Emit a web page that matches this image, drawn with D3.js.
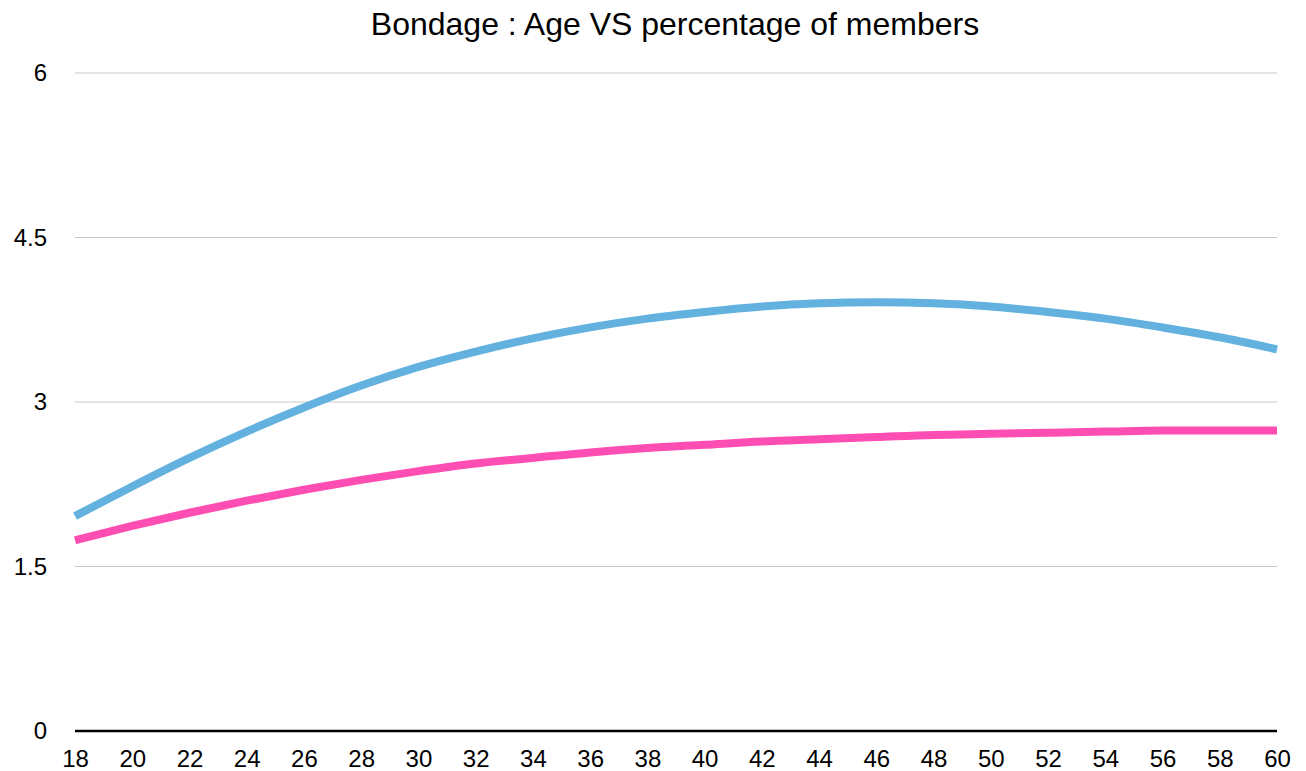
<!DOCTYPE html>
<html>
<head>
<meta charset="utf-8">
<script src="https://cdn.jsdelivr.net/npm/d3@7"></script>
<style>
  body { margin: 0; background: #fff; }
  svg { display: block; font-family: "Liberation Sans", Arial, Helvetica, sans-serif; }
</style>
</head>
<body>
<div id="vizcont"></div>
<script>
// age on x, percentage of members on y
var ages = [18, 20, 22, 24, 26, 28, 30, 32, 34, 36, 38, 40, 42, 44, 46, 48, 50, 52, 54, 56, 58, 60];
var blueVals = [1.96, 2.23, 2.49, 2.73, 2.95, 3.15, 3.32, 3.46, 3.58, 3.68, 3.76, 3.82, 3.87, 3.90, 3.91, 3.90, 3.87, 3.82, 3.76, 3.68, 3.59, 3.48];
var pinkVals = [1.74, 1.87, 1.99, 2.10, 2.20, 2.29, 2.37, 2.44, 2.49, 2.54, 2.58, 2.61, 2.64, 2.66, 2.68, 2.70, 2.71, 2.72, 2.73, 2.74, 2.74, 2.74];
var yTicks = [0, 1.5, 3, 4.5, 6];
var title = "Bondage : Age VS percentage of members";

var W = 1306, H = 771;
var margin = {top: 73, right: 29, bottom: 40, left: 75};
var width = W - margin.left - margin.right;
var height = H - margin.top - margin.bottom;

var svg = d3.select("#vizcont")
            .append("svg")
            .attr("width", W)
            .attr("height", H);

var g = svg.append("g")
           .attr("transform", "translate(" + margin.left + "," + margin.top + ")");

var x = d3.scaleLinear().domain([18, 60]).range([0, width]);
var y = d3.scaleLinear().domain([0, 6]).range([height, 0]);

// title
svg.append("text")
   .attr("x", 675)
   .attr("y", 35)
   .attr("text-anchor", "middle")
   .style("font-size", "32px")
   .style("fill", "#000")
   .text(title);

// gridlines
g.selectAll(".grid")
 .data(yTicks.filter(function(d) { return d > 0; }))
 .enter()
 .append("line")
 .attr("class", "grid")
 .attr("x1", 0)
 .attr("x2", width)
 .attr("y1", function(d) { return y(d); })
 .attr("y2", function(d) { return y(d); })
 .attr("stroke", "#c8c8c8")
 .style("stroke-width", "1px");

// y axis labels
var yAxis = g.append("g")
  .attr("transform", "translate(-28,0)")
  .call(d3.axisLeft(y).tickValues(yTicks).tickSize(0).tickPadding(0)
          .tickFormat(function(d) { return d; }));
yAxis.select(".domain").remove();
yAxis.selectAll("text")
  .style("font-size", "24px")
  .style("font-family", "'Liberation Sans', Arial, sans-serif")
  .attr("fill", "#000");

// x axis labels
var xAxis = g.append("g")
  .attr("transform", "translate(0," + height + ")")
  .call(d3.axisBottom(x).tickValues(ages).tickSize(0).tickPadding(19));
xAxis.select(".domain").remove();
xAxis.selectAll("text")
  .style("font-size", "24px")
  .style("font-family", "'Liberation Sans', Arial, sans-serif")
  .attr("fill", "#000");

// zero line
g.append("line")
 .attr("x1", 0)
 .attr("x2", width)
 .attr("y1", y(0))
 .attr("y2", y(0))
 .attr("stroke", "#000")
 .style("stroke-width", "2.5px");

var line = d3.line()
  .x(function(d) { return x(d[0]); })
  .y(function(d) { return y(d[1]); })
  .curve(d3.curveMonotoneX);

var series = [
  {vals: blueVals, color: "#63b1df"},
  {vals: pinkVals, color: "#ff4eb3"}
];

g.selectAll(".series")
 .data(series)
 .enter()
 .append("path")
 .attr("class", "series")
 .attr("d", function(s) { return line(ages.map(function(a, i) { return [a, s.vals[i]]; })); })
 .attr("fill", "none")
 .attr("stroke", function(s) { return s.color; })
 .style("stroke-width", "8px")
 .style("stroke-linecap", "butt");
</script>
</body>
</html>
